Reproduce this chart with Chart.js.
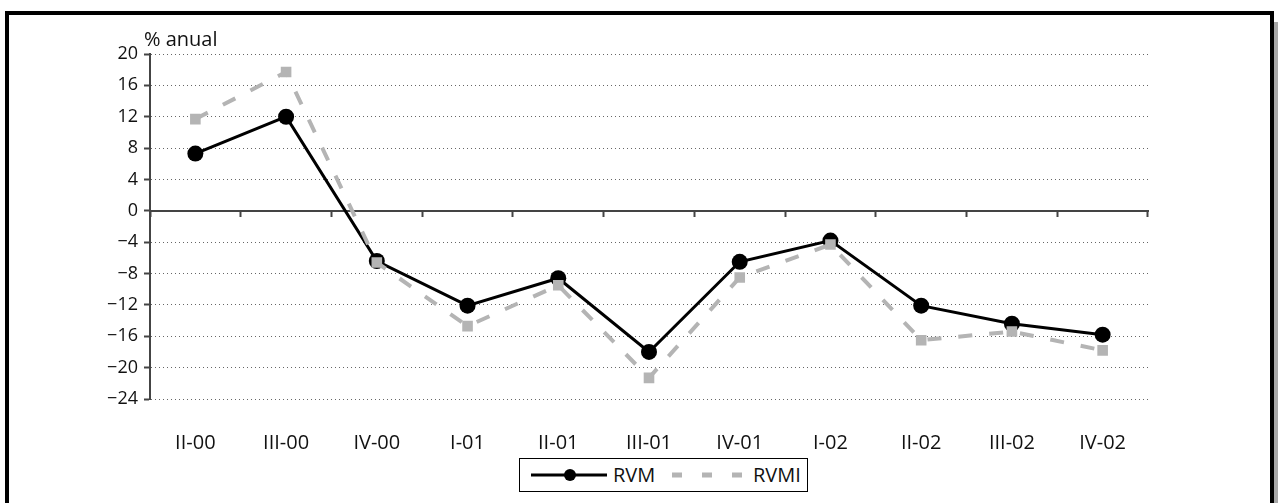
<!DOCTYPE html>
<html>
<head>
<meta charset="utf-8">
<script src="https://cdn.jsdelivr.net/npm/chart.js@4.4.1/dist/chart.umd.min.js"></script>
<style>
  html, body { margin: 0; padding: 0; background: #fff; overflow: hidden; }
  #frame { position: absolute; left: 5px; top: 11px; width: 1261px; height: 600px; border: 4px solid #000; box-shadow: 4px 11px 0 0 #a8a8a8; background: #fff; }
  #c { position: absolute; left: 0; top: 0; }
  #legend { position: absolute; left: 519px; top: 458px; width: 287px; height: 32px; border: 1px solid #000; background: #fff; font-family: "Open Sans", sans-serif; font-size: 20px; color: #111; }
  #legend .item { position: absolute; top: 0; line-height: 32px; }
  #legend svg { position: absolute; top: 0; }
</style>
</head>
<body>
<div id="frame"></div>
<canvas id="c" width="1278" height="503"></canvas>
<div id="legend"></div>
<script>
const categories = ['II-00','III-00','IV-00','I-01','II-01','III-01','IV-01','I-02','II-02','III-02','IV-02'];
const rvm  = [7.3, 12.0, -6.4, -12.1, -8.6, -18.0, -6.5, -3.8, -12.1, -14.4, -15.8];
const rvmi = [11.7, 17.7, -6.6, -14.7, -9.5, -21.3, -8.5, -4.3, -16.5, -15.4, -17.8];
const seriesNames = ['RVM', 'RVMI'];
const yMin = -24, yMax = 20, yStep = 4;
const unitLabel = '% anual';

const FONT = '"Open Sans", sans-serif';
const GRAY = '#b4b4b4';

const unitPlugin = {
  id: 'unitLabel',
  afterDraw(chart) {
    const ctx = chart.ctx;
    const a = chart.chartArea;
    ctx.save();
    ctx.font = '20px ' + FONT;
    ctx.fillStyle = '#111';
    ctx.textAlign = 'left';
    ctx.textBaseline = 'alphabetic';
    ctx.fillText(unitLabel, a.left - 6, a.top - 8);
    ctx.restore();
  }
};

const chart = new Chart(document.getElementById('c'), {
  type: 'line',
  data: {
    labels: categories,
    datasets: [
      {
        label: seriesNames[0], data: rvm, order: 1,
        borderColor: '#000', borderWidth: 3, tension: 0,
        pointStyle: 'circle', pointRadius: 8, pointHoverRadius: 8,
        pointBackgroundColor: '#000', pointBorderWidth: 0
      },
      {
        label: seriesNames[1], data: rvmi, order: 0,
        borderColor: GRAY, borderWidth: 4, borderDash: [14, 17], tension: 0,
        pointStyle: 'rect', pointRadius: 7.5, pointHoverRadius: 7.5,
        pointBackgroundColor: GRAY, pointBorderWidth: 0
      }
    ]
  },
  options: {
    responsive: false,
    animation: false,
    events: [],
    layout: { padding: { left: 0, right: 130, top: 54, bottom: 0 } },
    plugins: { legend: { display: false }, title: { display: false }, tooltip: { enabled: false } },
    scales: {
      x: {
        type: 'category', offset: true, position: 'bottom',
        grid: { display: false }, border: { display: false },
        ticks: { font: { family: FONT, size: 20 }, color: '#111', padding: 24, maxRotation: 0, autoSkip: false },
        afterFit(s) { s.height = 104; }
      },
      x2: {
        type: 'category', labels: categories, offset: true, position: { y: 0 },
        grid: { display: true, offset: true, drawOnChartArea: false, drawTicks: true, tickLength: 5, tickColor: '#444', tickWidth: 2 },
        border: { display: true, color: '#444', width: 2 },
        ticks: { display: false },
        afterFit(s) { s.height = 0; }
      },
      y: {
        min: yMin, max: yMax,
        grid: { color: '#666', lineWidth: 1, tickLength: 6, tickColor: '#444', tickWidth: 2, tickBorderDash: [] },
        border: { display: true, color: '#444', width: 2, dash: [1, 3] },
        ticks: {
          stepSize: yStep, padding: 6, color: '#111', font: { family: FONT, size: 18 },
          callback: v => (v < 0 ? '\u2212' + Math.abs(v) : String(v))
        },
        afterFit(s) { s.width = 150; }
      }
    }
  },
  plugins: [unitPlugin]
});

// HTML legend built from the chart's datasets
const legend = document.getElementById('legend');
const ds = chart.data.datasets;
legend.innerHTML =
  '<svg width="76" height="32" style="left:11px"><line x1="0" y1="16" x2="76" y2="16" stroke="' + ds[0].borderColor + '" stroke-width="3"/><circle cx="39" cy="16" r="6" fill="' + ds[0].pointBackgroundColor + '"/></svg>' +
  '<span class="item" style="left:93px">' + ds[0].label + '</span>' +
  '<svg width="72" height="32" style="left:152px"><line x1="0" y1="16" x2="70" y2="16" stroke="' + ds[1].borderColor + '" stroke-width="5" stroke-dasharray="10,20"/></svg>' +
  '<span class="item" style="left:233px">' + ds[1].label + '</span>';
</script>
</body>
</html>
